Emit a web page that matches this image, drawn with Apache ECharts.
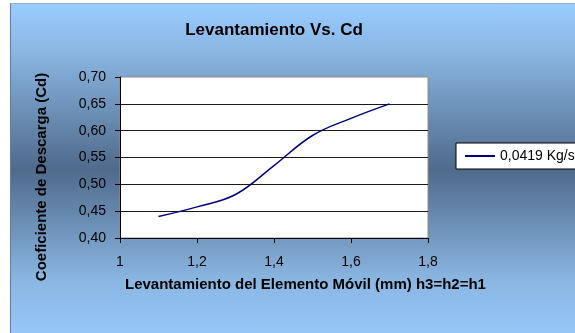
<!DOCTYPE html>
<html>
<head>
<meta charset="utf-8">
<script src="https://cdn.jsdelivr.net/npm/echarts@6/dist/echarts.min.js"></script>
<style>
  html, body { margin: 0; padding: 0; background: #fff; }
  #wrap { position: relative; width: 575px; height: 333px; overflow: hidden; }
  #bg {
    position: absolute; left: 10px; top: 3px; width: 600px; height: 345px;
    border-left: 1px solid #5f7d9c; border-top: 1px solid #8cb2d8;
    background: linear-gradient(to bottom, #99ccff 0%, #8ab6e2 14%, #4f6a8b 48%, #8ab6e2 80%, #99ccff 100%);
  }
  #chart { position: absolute; left: 0; top: 0; width: 575px; height: 333px; }
</style>
</head>
<body>
<div id="wrap">
  <div id="bg"></div>
  <div id="chart"></div>
</div>
<script>
// Lift of the moving element (mm) and discharge coefficient
const lift = [1.1, 1.2, 1.3, 1.4, 1.5, 1.6, 1.7];
const cd = [0.44, 0.458, 0.481, 0.535, 0.591, 0.623, 0.65];
const seriesName = '0,0419 Kg/s';
const chartTitle = 'Levantamiento Vs. Cd';
const xTitle = 'Levantamiento del Elemento Móvil (mm) h3=h2=h1';
const yTitle = 'Coeficiente de Descarga (Cd)';

const FONT = '"Liberation Sans", Arial, sans-serif';
const chart = echarts.init(document.getElementById('chart'), null, { renderer: 'canvas' });

chart.setOption({
  backgroundColor: 'transparent',
  animation: false,
  grid: {
    left: 120, right: 147, top: 77, bottom: 95,
    show: true, backgroundColor: '#ffffff', borderColor: '#8c8c8c', borderWidth: 1
  },
  graphic: [
    { type: 'text', x: 274, y: 30,
      style: { text: chartTitle, fill: '#000', font: 'bold 17px ' + FONT, textAlign: 'center', textVerticalAlign: 'middle' } },
    { type: 'text', x: 125, y: 285,
      style: { text: xTitle, fill: '#000', font: 'bold 15px ' + FONT, textAlign: 'left', textVerticalAlign: 'middle' } },
    { type: 'text', x: 42, y: 177, rotation: Math.PI / 2,
      style: { text: yTitle, fill: '#000', font: 'bold 15px ' + FONT, textAlign: 'center', textVerticalAlign: 'middle' } }
  ],
  legend: {
    left: 456, top: 143,
    orient: 'vertical',
    backgroundColor: '#ffffff', borderColor: '#000', borderWidth: 1,
    padding: [6, 12, 6, 9],
    itemWidth: 30, itemHeight: 2, itemGap: 5,
    data: [{ name: seriesName, icon: 'rect' }],
    textStyle: { color: '#000', fontSize: 14, fontFamily: FONT }
  },
  xAxis: {
    type: 'value', min: 1, max: 1.8, interval: 0.2,
    axisLine: { show: true, lineStyle: { color: '#000', width: 1 } },
    axisTick: { show: true, inside: false, length: 5, lineStyle: { color: '#000' } },
    splitLine: { show: false },
    axisLabel: {
      margin: 17, color: '#000', fontSize: 14, fontFamily: FONT,
      formatter: v => String(Math.round(v * 10) / 10).replace('.', ',')
    }
  },
  yAxis: {
    type: 'value', min: 0.4, max: 0.7, interval: 0.05,
    axisLine: { show: true, lineStyle: { color: '#000', width: 1 } },
    axisTick: { show: true, inside: false, length: 5, lineStyle: { color: '#000' } },
    splitLine: { show: true, showMinLine: false, showMaxLine: false, lineStyle: { color: '#1a1a1a', width: 1 } },
    axisLabel: {
      margin: 14, color: '#000', fontSize: 14, fontFamily: FONT,
      formatter: v => v.toFixed(2).replace('.', ',')
    }
  },
  series: [{
    name: seriesName,
    type: 'line',
    smooth: 0.4,
    symbol: 'none',
    data: lift.map((x, i) => [x, cd[i]]),
    lineStyle: { color: '#000080', width: 1.5 },
    itemStyle: { color: '#000080' }
  }]
});
</script>
</body>
</html>
